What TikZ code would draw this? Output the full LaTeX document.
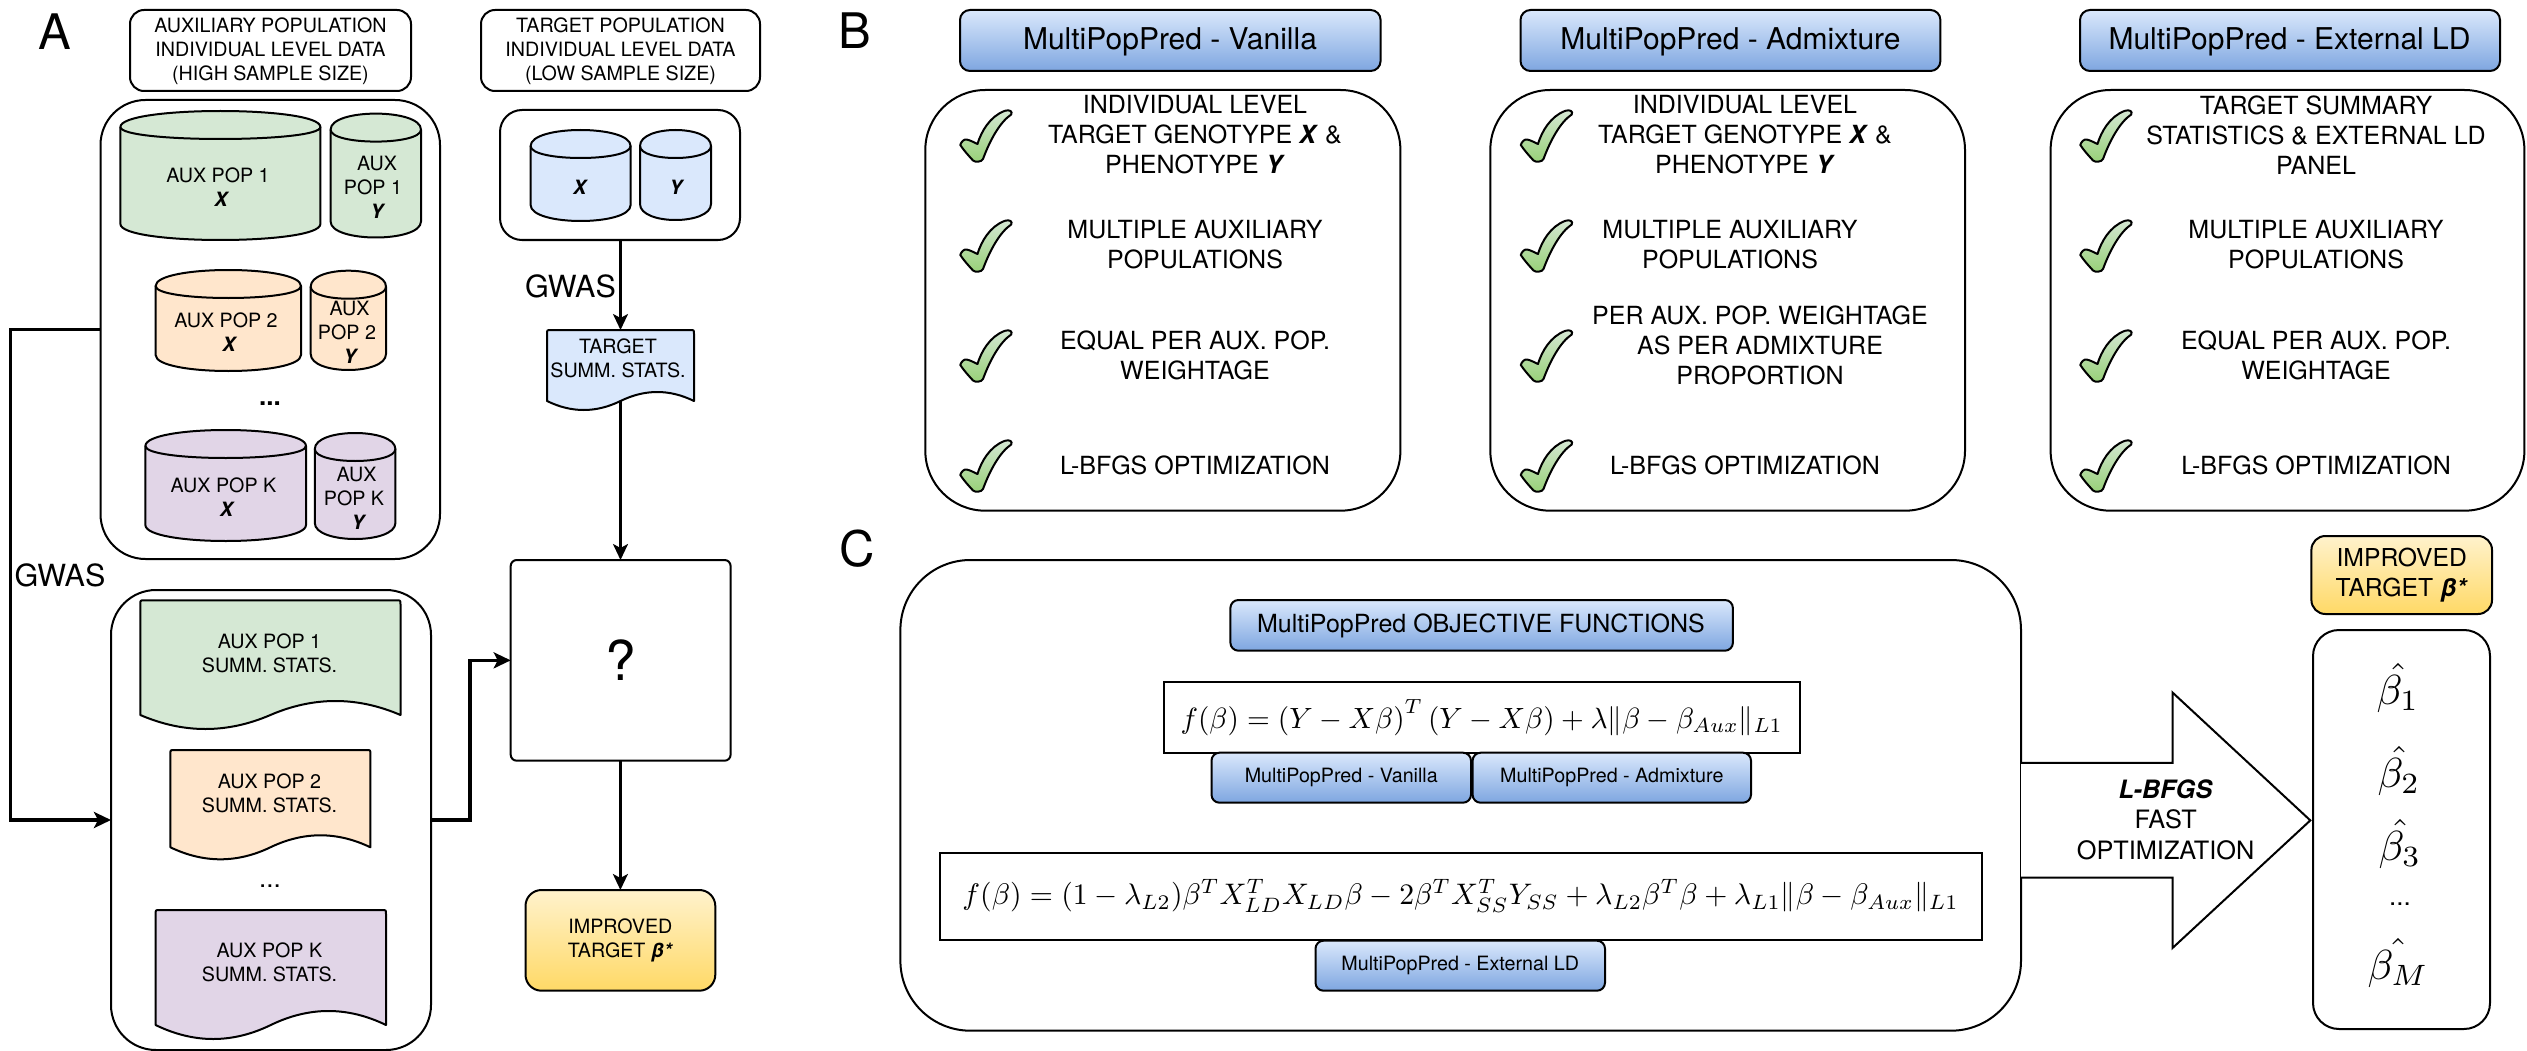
\documentclass[tikz,border=0pt]{standalone}
\usepackage{amsmath}
\usepackage{graphicx}
\usepackage{fontspec}
\setmainfont{TeX Gyre Heros}
\usetikzlibrary{arrows.meta,calc}
\definecolor{cgreen}{HTML}{D5E8D4}
\definecolor{corange}{HTML}{FFE6CC}
\definecolor{cpurple}{HTML}{E1D5E7}
\definecolor{cblue}{HTML}{DAE8FC}
\definecolor{hblue}{HTML}{7EA6E0}
\definecolor{ytop}{HTML}{FFF2CC}
\definecolor{ybot}{HTML}{FFD966}
\definecolor{tickb}{HTML}{97D077}
\newcommand{\fsz}[2]{\fontsize{#1}{#2}\selectfont}
\newcommand{\bi}[1]{\textbf{\textit{#1}}}
\tikzset{
  base/.style={draw=black,line width=2pt,inner sep=0pt,outer sep=0pt,align=center,fill=white},
  hdr/.style={base,top color=cblue,bottom color=hblue,rounded corners=10pt},
  gold/.style={base,top color=ytop,bottom color=ybot},
  txt/.style={inner sep=0pt,outer sep=0pt,align=center},
  small/.style={txt,font=\fsz{19.7}{24}},
  item/.style={txt,font=\fsz{25}{30}},
  conn/.style={line width=2.6pt,-{Stealth[length=16pt,width=15pt,inset=4pt]}},
  thickconn/.style={line width=3.2pt,line join=miter,-{Stealth[length=17pt,width=16pt,inset=4pt]}},
}
\newcommand{\bx}[7][]{%
  \pgfmathsetmacro\bw{#5-#3}\pgfmathsetmacro\bh{#6-#4}%
  \node[base,minimum width=\bw pt,minimum height=\bh pt,#1] (#2) at ({(#3+#5)/2},{(#4+#6)/2}) {#7};}
% name x1 y1 x2 y2 fill tx ty text
\newcommand{\cyl}[9]{%
  \filldraw[line width=2pt,draw=black,fill=#6,line join=round]
    (#2,{#3+16}) .. controls (#2,{#3-16/3}) and (#4,{#3-16/3}) .. (#4,{#3+16})
    -- (#4,{#5-16}) .. controls (#4,{#5+16/3}) and (#2,{#5+16/3}) .. (#2,{#5-16}) -- cycle;
  \draw[line width=2pt] (#2,{#3+16}) .. controls (#2,{#3+32}) and (#4,{#3+32}) .. (#4,{#3+16});
  \node[small] (#1) at (#7,#8) {#9};}
% name x1 y1 x2 yL d fill
\newcommand{\docu}[7]{%
  \pgfmathsetmacro\dw{#4-#2}\pgfmathsetmacro\dh{#5-#3}%
  \filldraw[line width=2pt,draw=black,fill=#7,line join=round,rounded corners=0pt]
    ({#2+4},#3) -- ({#4-4},#3) .. controls (#4,#3) .. (#4,{#3+4}) -- (#4,#5)
    .. controls ({#4-\dw/6},{#5-4*#6/3}) and ({#4-\dw/3},{#5-4*#6/3}) .. ({(#2+#4)/2},#5)
    .. controls ({#2+\dw/3},{#5+4*#6/3}) and ({#2+\dw/6},{#5+4*#6/3}) .. (#2,#5)
    -- (#2,{#3+4}) .. controls (#2,#3) .. ({#2+4},#3) -- cycle;
  \node[minimum width=\dw pt,minimum height=\dh pt,inner sep=0pt,outer sep=0pt] (#1) at ({(#2+#4)/2},{(#3+#5)/2}) {};}
\newcommand{\tickm}[2]{%
  \begin{scope}[shift={(#1,#2)}]
  \draw[line width=2pt,draw=black,top color=cgreen,bottom color=tickb,line join=round]
   (0.3,35) .. controls (1,32) and (4,29) .. (6.5,29.5) .. controls (10,30) and (15,33) .. (17.5,34)
   .. controls (21,22) and (30,6) .. (45,0.8) .. controls (49,-0.5) and (53,1) .. (51.2,4.5)
   .. controls (40,12) and (30,30) .. (23,49) .. controls (22,52) and (15,52.5) .. (13,50.5)
   .. controls (9,46) and (5,42) .. (0.3,35) -- cycle;
  \end{scope}}
\begin{document}
\begin{tikzpicture}[x=1pt,y=-1pt]
\useasboundingbox (0,0) rectangle (2527,1051);
\fill[white] (0,0) rectangle (2527,1051);
% Panel labels
\node[txt,font=\fsz{49}{56}] (labA) at (55,31.5) {A};
\node[txt,font=\fsz{49}{56}] (labB) at (855,31) {B};
\node[txt,font=\fsz{49}{56}] (labC) at (857,549) {C};
% Panel A headers
\bx[rounded corners=14pt]{hAux}{130}{10}{411}{91}{}
\bx[rounded corners=14pt]{hTgt}{481}{10}{760}{91}{}
\node[small] (hAuxT) at (270.5,51.5) {AUXILIARY POPULATION\\INDIVIDUAL LEVEL DATA\\(HIGH SAMPLE SIZE)};
\node[small] (hTgtT) at (620.5,51.5) {TARGET POPULATION\\INDIVIDUAL LEVEL DATA\\(LOW SAMPLE SIZE)};
% Aux box
\bx[rounded corners=45pt]{auxbox}{100.5}{100}{440}{559}{}
\cyl{a1x}{120.4}{111}{320.4}{240}{cgreen}{218}{187.5}{AUX POP 1\\\hspace*{8pt}\bi{X}}
\cyl{a1y}{330.6}{113.6}{421}{237.5}{cgreen}{373}{187.5}{\hspace*{8pt}AUX\\POP 1\\\hspace*{10pt}\bi{Y}}
\cyl{a2x}{155.6}{270}{301}{371}{corange}{226}{332.5}{AUX POP 2\\\hspace*{8pt}\bi{X}}
\cyl{a2y}{310.7}{270.7}{386}{370}{corange}{347}{332.5}{\hspace*{5pt}AUX\\POP 2\\\hspace*{8pt}\bi{Y}}
\node[txt,font=\bfseries\fsz{26}{30}] (adots) at (270,404) {...};
\cyl{akx}{145.4}{430}{306}{541}{cpurple}{223.5}{497.5}{AUX POP K\\\hspace*{8pt}\bi{X}}
\cyl{aky}{314.8}{433}{395.4}{539}{cpurple}{354}{498.6}{\hspace*{5pt}AUX\\POP K\\\hspace*{10pt}\bi{Y}}
% Target box
\bx[rounded corners=22pt]{tgtbox}{500}{110}{740}{240}{}
\cyl{tx}{530.6}{130}{630.6}{221}{cblue}{580.6}{187.5}{\bi{X}}
\cyl{ty}{640}{130}{711}{220}{cblue}{677}{187.5}{\bi{Y}}
\node[txt,font=\fsz{30.5}{36}] (gwasT) at (570.5,286) {GWAS};
\docu{tdoc}{547}{330}{694}{401}{9}{cblue}
\node[small] (tdoct) at (618,358) {TARGET\\SUMM. STATS.};
% ? box
\bx[rounded corners=6pt,font=\fsz{55}{60}]{qbox}{510.7}{560}{730.6}{760.7}{?}
\bx[gold,rounded corners=16pt,font=\fsz{19.7}{24}]{imp}{525.5}{890}{715.3}{990.7}{IMPROVED\\TARGET \bi{β*}}
% Summary box
\bx[rounded corners=45pt]{summbox}{111}{590}{431}{1050}{}
\docu{d1}{140.3}{600.3}{400.5}{715}{14}{cgreen}
\node[small] (d1t) at (269.5,653) {AUX POP 1\\SUMM. STATS.};
\docu{d2}{170.4}{750}{370.4}{847.3}{12}{corange}
\node[small] (d2t) at (269.5,793) {AUX POP 2\\SUMM. STATS.};
\node[txt,font=\fsz{26}{30}] (ddots) at (270,886) {...};
\docu{dk}{155.6}{910}{386}{1025}{14}{cpurple}
\node[small] (dkt) at (269.5,962.7) {AUX POP K\\SUMM. STATS.};
\node[txt,font=\fsz{30.5}{36}] (gwasL) at (60,575) {GWAS};
% Panel A connectors
\coordinate (leftrun) at (10.7,0);
\coordinate (midrun) at (470,0);
\draw[thickconn] (auxbox.west) -- (leftrun |- auxbox.west) -- (leftrun |- summbox.west) -- (summbox.west);
\draw[thickconn] (summbox.east) -- (midrun |- summbox.east) -- (midrun |- qbox.west) -- (qbox.west);
\draw[conn] (tgtbox.south -| tdoc.north) -- (tdoc.north);
\draw[conn] (tdoc.south) -- (qbox.north -| tdoc.south);
\draw[conn] (qbox.south -| imp.north) -- (imp.north);
% Panel B
\bx[hdr]{hV}{960}{10}{1380.6}{71}{}
\bx[hdr]{hA}{1520.5}{10}{1940.4}{71}{}
\bx[hdr]{hE}{2080}{10}{2500}{71}{}
\node[txt,font=\fsz{30}{34}] (hVT) at (1170,41.5) {MultiPopPred - Vanilla};
\node[txt,font=\fsz{30}{34}] (hAT) at (1730.5,41.5) {MultiPopPred - Admixture};
\node[txt,font=\fsz{30}{34}] (hET) at (2289.5,41.5) {MultiPopPred - External LD};
\bx[rounded corners=60pt]{bV}{925.3}{90}{1400.4}{510.7}{}
\bx[rounded corners=60pt]{bA}{1490.3}{90}{1965}{510.7}{}
\bx[rounded corners=60pt]{bE}{2050.6}{90}{2524.4}{510.7}{}
\foreach \xx in {960,1520.5,2080} \foreach \yy in {110,220,330,440} {\tickm{\xx}{\yy}}
\node[item] (v1) at (1195,135) {INDIVIDUAL LEVEL\\TARGET GENOTYPE \bi{X} \&\\PHENOTYPE \bi{Y}};
\node[item] (v2) at (1195,245) {MULTIPLE AUXILIARY\\POPULATIONS};
\node[item] (v3) at (1195,355) {EQUAL PER AUX. POP.\\WEIGHTAGE};
\node[item] (v4) at (1195,465) {L-BFGS OPTIMIZATION};
\node[item] (a1) at (1745,135) {INDIVIDUAL LEVEL\\TARGET GENOTYPE \bi{X} \&\\PHENOTYPE \bi{Y}};
\node[item] (a2) at (1730,245) {MULTIPLE AUXILIARY\\POPULATIONS};
\node[item] (a3) at (1760,345) {PER AUX. POP. WEIGHTAGE\\AS PER ADMIXTURE\\PROPORTION};
\node[item] (a4) at (1745,465) {L-BFGS OPTIMIZATION};
\node[item] (e1) at (2316,135) {TARGET SUMMARY\\STATISTICS \& EXTERNAL LD\\PANEL};
\node[item] (e2) at (2316,245) {MULTIPLE AUXILIARY\\POPULATIONS};
\node[item] (e3) at (2316,355) {EQUAL PER AUX. POP.\\WEIGHTAGE};
\node[item] (e4) at (2316,465) {L-BFGS OPTIMIZATION};
% Panel C
\bx[rounded corners=70pt]{cbox}{900.4}{560}{2021}{1030.7}{}
\bx[hdr,rounded corners=8pt]{hObj}{1230.4}{600}{1732.9}{650.7}{}
\node[txt,font=\fsz{25}{30}] (hObjT) at (1481,625.5) {MultiPopPred OBJECTIVE FUNCTIONS};
\bx[]{eq1}{1163.6}{682}{1799.7}{752.7}{\resizebox{602pt}{!}{$f(\beta) = \left(Y - X\beta\right)^T \left(Y - X\beta\right) + \lambda\|\beta - \beta_{Aux}\|_{L1}$}}
\bx[hdr,rounded corners=8pt,font=\fsz{19.7}{24}]{mV}{1211.5}{752.7}{1471}{802.7}{MultiPopPred - Vanilla}
\bx[hdr,rounded corners=8pt,font=\fsz{19.7}{24}]{mA}{1472.6}{752.7}{1751}{802.7}{MultiPopPred - Admixture}
\bx[]{eq2}{939.6}{852.7}{1981.5}{940}{\resizebox{996pt}{!}{$f(\beta) = (1 - \lambda_{L2})\beta^T X_{LD}^T X_{LD}\beta - 2\beta^T X_{SS}^T Y_{SS} + \lambda_{L2}\beta^T\beta + \lambda_{L1}\|\beta - \beta_{Aux}\|_{L1}$}}
\bx[hdr,rounded corners=8pt,font=\fsz{19.7}{24}]{mE}{1315.5}{940.7}{1605}{990.7}{MultiPopPred - External LD}
% Big arrow
\coordinate (arA) at (2021,762.8);
\coordinate (arB) at (2172.5,762.8);
\coordinate (arC) at (2172.5,692.5);
\coordinate (arD) at (2310.3,820.4);
\coordinate (arE) at (2172.5,948);
\coordinate (arF) at (2172.5,877.7);
\coordinate (arG) at (2021,877.7);
\draw[line width=2pt,fill=white,line join=miter] (arA) -- (arB) -- (arC) -- (arD) -- (arE) -- (arF) -- (arG);
\node[txt,font=\fsz{25.3}{30.5}] (arT) at (2165.6,819.5) {\bi{L-BFGS}\\FAST\\OPTIMIZATION};
% Result column
\bx[gold,rounded corners=14pt,font=\fsz{24.7}{29.5}]{imp2}{2311.4}{536}{2492}{614}{IMPROVED\\TARGET \bi{β*}}
\bx[rounded corners=26pt]{betabox}{2313}{630}{2490}{1029}{}
\node[txt] (b1) at (2398,688) {\scalebox{4.2}{$\hat{\beta_1}$}};
\node[txt] (b2) at (2399,771) {\scalebox{4.2}{$\hat{\beta_2}$}};
\node[txt] (b3) at (2400,844) {\scalebox{4.2}{$\hat{\beta_3}$}};
\node[txt,font=\fsz{26}{30}] (bd) at (2400,904) {...};
\node[txt] (bm) at (2398,963) {\scalebox{4.2}{$\hat{\beta_M}$}};
\end{tikzpicture}
\end{document}
